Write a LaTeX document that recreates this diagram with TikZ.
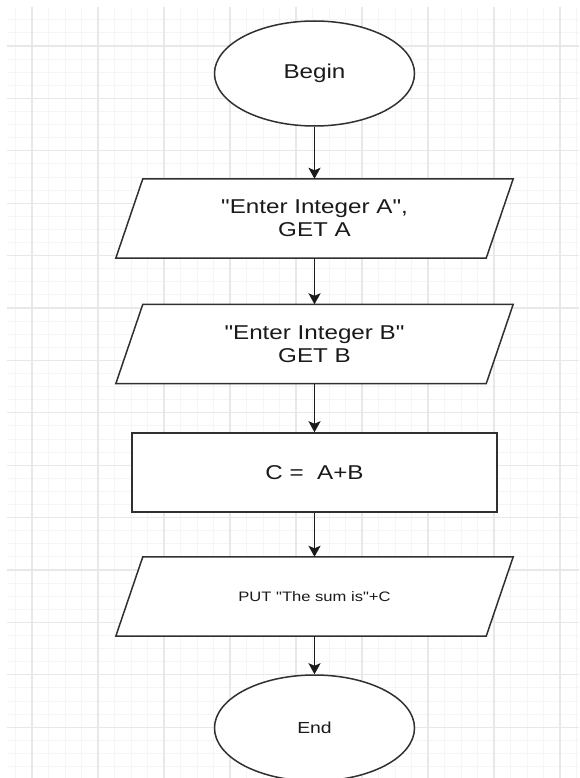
\documentclass[tikz,border=0pt]{standalone}
\usepackage{fontspec}
\newfontfamily\chartfont[FakeStretch=1.21]{Liberation Sans}
\usetikzlibrary{arrows.meta,shapes.geometric}

% layers: grid paper at the bottom, slanted outlines above it, nodes and arrows on top
\pgfdeclarelayer{grid}
\pgfdeclarelayer{outline}
\pgfsetlayers{grid,outline,main}

\definecolor{gridminor}{HTML}{F5F5F5}
\definecolor{gridmajor}{HTML}{E8E8E8}
\definecolor{ink}{HTML}{1A1A1A}
\definecolor{edgegray}{HTML}{303030}

\tikzset{
  bigtext/.style={font=\chartfont\fontsize{20}{23}\selectfont},
  terminal/.style={ellipse, draw=edgegray, line width=1.5pt, fill=white,
    minimum width=200pt, minimum height=105pt, inner sep=0pt, text=ink},
  process/.style={rectangle, draw=edgegray, line width=1.5pt, fill=white,
    minimum width=365pt, minimum height=79pt, text=ink, align=center},
  iobody/.style={rectangle, minimum width=370pt, minimum height=79pt,
    inner sep=0pt, text=ink, align=center},
  ioline/.style={draw=edgegray, line width=1.5pt, fill=white, line join=miter},
  flow/.style={draw=ink, line width=1.8pt,
    -{Stealth[length=11pt,width=12pt,inset=2.5pt]}},
  minorline/.style={draw=gridminor, line width=1pt},
  majorline/.style={draw=gridmajor, line width=1.2pt},
}

\begin{document}
\begin{tikzpicture}[x=1pt,y=-1pt]
\useasboundingbox (0,0) rectangle (579,778);

% grid paper
\begin{pgfonlayer}{grid}
  \fill[white] (0,0) rectangle (579,778);
  \foreach \k in {-1,...,33}
    \draw[minorline] ({32+16.5*\k},7) -- ({32+16.5*\k},778);
  \foreach \k in {-2,...,55}
    \draw[minorline] (7,{46+13.1*\k}) -- (579,{46+13.1*\k});
  \foreach \k in {0,...,8}
    \draw[majorline] ({32+66*\k},7) -- ({32+66*\k},778);
  \foreach \k in {0,...,13}
    \draw[majorline] (7,{46+52.4*\k}) -- (579,{46+52.4*\k});
\end{pgfonlayer}

% flowchart steps
\node[terminal, bigtext] (begin) at (314.5,73.5) {Begin};
\node[iobody, bigtext] (geta) at (314.5,218.5) {"Enter Integer A",\\GET A};
\node[iobody, bigtext] (getb) at (314.5,344) {"Enter Integer B"\\GET B};
\node[process, bigtext] (sum) at (314.5,472.5) {C = \ A+B};
\node[iobody, font=\chartfont\fontsize{13.7}{16}\selectfont] (put) at (314.5,596.5)
  {PUT "The sum is"+C};
\node[terminal, font=\chartfont\fontsize{16}{19}\selectfont,
  minimum height=106pt] (end) at (314.5,728) {End};

% slanted input/output outlines
\begin{pgfonlayer}{outline}
  \foreach \n in {geta,getb,put}
    \filldraw[ioline] ([xshift=13.5pt]\n.north west) -- ([xshift=13.5pt]\n.north east)
      -- ([xshift=-13.5pt]\n.south east) -- ([xshift=-13.5pt]\n.south west) -- cycle;
\end{pgfonlayer}

% connectors
\draw[flow] (begin.south) -- (geta.north);
\draw[flow] (geta.south) -- (getb.north);
\draw[flow] (getb.south) -- (sum.north);
\draw[flow] (sum.south) -- (put.north);
\draw[flow] (put.south) -- (end.north);
\end{tikzpicture}
\end{document}
